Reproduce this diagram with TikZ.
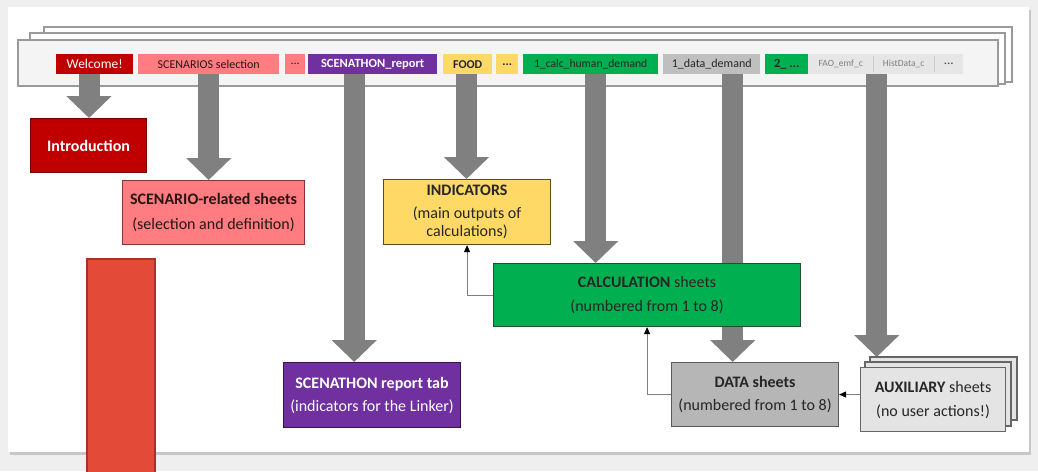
\documentclass[tikz,border=0pt]{standalone}
\usepackage{fontspec}
\setmainfont{Carlito}
\usetikzlibrary{arrows.meta,calc}
\definecolor{bggray}{HTML}{EFEFEF}
\definecolor{framegray}{HTML}{9A9A9A}
\definecolor{frontfill}{HTML}{F4F4F4}
\definecolor{wred}{HTML}{C00000}
\definecolor{wredline}{HTML}{7A0000}
\definecolor{salmon}{HTML}{FF7C80}
\definecolor{salmonline}{HTML}{8A3434}
\definecolor{purp}{HTML}{7030A0}
\definecolor{purpline}{HTML}{3A1050}
\definecolor{yel}{HTML}{FFD966}
\definecolor{yelline}{HTML}{5A4A20}
\definecolor{grn}{HTML}{00B050}
\definecolor{grnline}{HTML}{1F4F2F}
\definecolor{tabgray}{HTML}{BFBFBF}
\definecolor{datagray}{HTML}{B6B6B6}
\definecolor{lightzone}{HTML}{E6E6E6}
\definecolor{auxfill}{HTML}{E4E4E4}
\definecolor{arrowgray}{HTML}{808080}
\definecolor{thingray}{HTML}{7F7F7F}
\definecolor{redrect}{HTML}{E34A37}
\definecolor{redrectline}{HTML}{A8322A}
\definecolor{darktext}{HTML}{2A1414}
\begin{document}
\begin{tikzpicture}[x=1pt,y=-1pt,
  tabbox/.style={inner sep=0pt, anchor=north west, minimum height=20pt, font=\fontsize{12}{14}\selectfont},
  boxnode/.style={inner sep=0pt, anchor=north west, align=center, line width=1.1pt, font=\fontsize{16}{18}\selectfont},
  bigarrow/.style={draw=arrowgray, line width=21pt, -{Triangle[width=44pt,length=22pt]}},
  thinarrow/.style={draw=thingray, line width=0.9pt, -{Triangle[width=6pt,length=7pt,black]}},
  framebox/.style={draw=framegray, line width=1.1pt}
]
\clip (0,0) rectangle (1038,471);
\fill[bggray] (0,0) rectangle (1038,471);
% card with shadow
\fill[black!22] (10,10) rectangle (1031,455);
\fill[white] (8,7) rectangle (1029,452);
% stacked tab frames
\filldraw[framebox, fill=white] (44,27) rectangle (1012,82);
\filldraw[framebox, fill=white] (30,33) rectangle (1005,84);
\filldraw[framebox, fill=frontfill] (18,40) rectangle (998,86);
% tabs
\node[tabbox, fill=wred, text=white, minimum width=77pt, font=\fontsize{13.5}{14}\selectfont] (welcome) at (56,54) {Welcome!};
\node[tabbox, fill=salmon, text=darktext, minimum width=141pt] (scensel) at (138,54) {SCENARIOS selection};
\node[tabbox, fill=salmon, text=darktext, minimum width=20pt] (dotsa) at (285,54) {...};
\node[tabbox, fill=purp, text=white, minimum width=129pt, font=\fontsize{12.5}{14}\selectfont\bfseries] (report) at (308,54) {SCENATHON\_report};
\node[tabbox, fill=yel, text=black!85, minimum width=49pt, font=\fontsize{12}{14}\selectfont\bfseries] (food) at (443,54) {FOOD};
\node[tabbox, fill=yel, text=black!85, minimum width=22pt, font=\fontsize{12}{14}\selectfont\bfseries] (dotsb) at (496,54) {...};
\node[tabbox, fill=grn, text=black!85, minimum width=135pt, font=\fontsize{11.6}{14}\selectfont] (calctab) at (523,54) {1\_calc\_human\_demand};
\node[tabbox, fill=tabgray, text=black!85, minimum width=97pt] (datatab) at (663,54) {1\_data\_demand};
\node[tabbox, fill=grn, text=black!85, minimum width=43pt, font=\fontsize{12.5}{14}\selectfont\bfseries] (twotab) at (765,54) {2\_ ...};
\node[tabbox, fill=lightzone, text=black!50, minimum width=65pt, font=\fontsize{9.5}{10}\selectfont] (fao) at (808,54) {FAO\_emf\_c};
\node[tabbox, fill=lightzone, text=black!50, minimum width=61pt, font=\fontsize{9.5}{10}\selectfont] (hist) at (873,54) {HistData\_c};
\node[tabbox, fill=lightzone, text=black!75, minimum width=29pt, font=\fontsize{13}{14}\selectfont] (dotsc) at (934,54) {...};
\draw[black!20, line width=0.8pt] (fao.north east) ++(0,2) -- ++(0,16);
\draw[black!20, line width=0.8pt] (hist.north east) ++(0,2) -- ++(0,16);
% arrow start points
\coordinate (a3) at ($(report.south)+(-18.5,0)$);
\coordinate (a5) at ($(calctab.south)+(5,0)$);
\coordinate (a6) at ($(datatab.south)+(21,0)$);
\coordinate (a7) at ($(hist.south)+(-27,0)$);
% big arrows
\draw[bigarrow] (welcome.south -| 89,0) -- (89,118);
\draw[bigarrow] (scensel.south) -- (scensel.south |- 0,180);
\draw[bigarrow] (a3) -- (a3 |- 0,362);
\draw[bigarrow] (food.south -| 466.5,0) -- (466.5,179);
\draw[bigarrow] (a5) -- (a5 |- 0,263);
\draw[bigarrow] (a6) -- (a6 |- 0,362);
\draw[bigarrow] (a7) -- (a7 |- 0,357);
% boxes
\node[boxnode, fill=wred, draw=wredline, text=white, minimum width=116pt, minimum height=54pt] (intro) at (30,118) {\textbf{Introduction}};
\node[boxnode, fill=salmon, draw=salmonline, text=darktext, minimum width=182pt, minimum height=64pt] (scenrel) at (122,180) {\textbf{SCENARIO-related sheets}\\[7pt](selection and definition)};
\node[boxnode, fill=yel, draw=yelline, text=black!85, minimum width=167pt, minimum height=65pt] (ind) at (383,179) {\textbf{INDICATORS}\\[5pt](main outputs of\\calculations)};
\node[boxnode, fill=grn, draw=grnline, text=black!85, minimum width=307pt, minimum height=63pt] (calc) at (493,263) {\textbf{CALCULATION} sheets\\[6pt](numbered from 1 to 8)};
\node[boxnode, fill=purp, draw=purpline, text=white, minimum width=177pt, minimum height=65pt] (reptab) at (283,362) {\textbf{SCENATHON report tab}\\[5pt](indicators for the Linker)};
\node[boxnode, fill=datagray, draw=black!65, text=black!85, minimum width=167pt, minimum height=64pt] (data) at (671,362) {\textbf{DATA sheets}\\[5pt](numbered from 1 to 8)};
\filldraw[fill=auxfill, draw=black!60, line width=1.1pt] (870,357) rectangle (1017,420);
\filldraw[fill=auxfill, draw=black!60, line width=1.1pt] (865,362) rectangle (1011,426);
\node[boxnode, fill=auxfill, draw=black!60, text=black!85, minimum width=145pt, minimum height=64pt] (aux) at (860,367) {\textbf{AUXILIARY} sheets\\[6pt](no user actions!)};
% thin connectors
\draw[thinarrow] (calc.west) -| (ind.south);
\draw[thinarrow] (data.west) -| (calc.south);
\draw[thinarrow] (aux.west |- data.east) -- (data.east);
% red rectangle
\filldraw[fill=redrect, draw=redrectline, line width=1.4pt] (87,259) rectangle (155,480);
\end{tikzpicture}
\end{document}
